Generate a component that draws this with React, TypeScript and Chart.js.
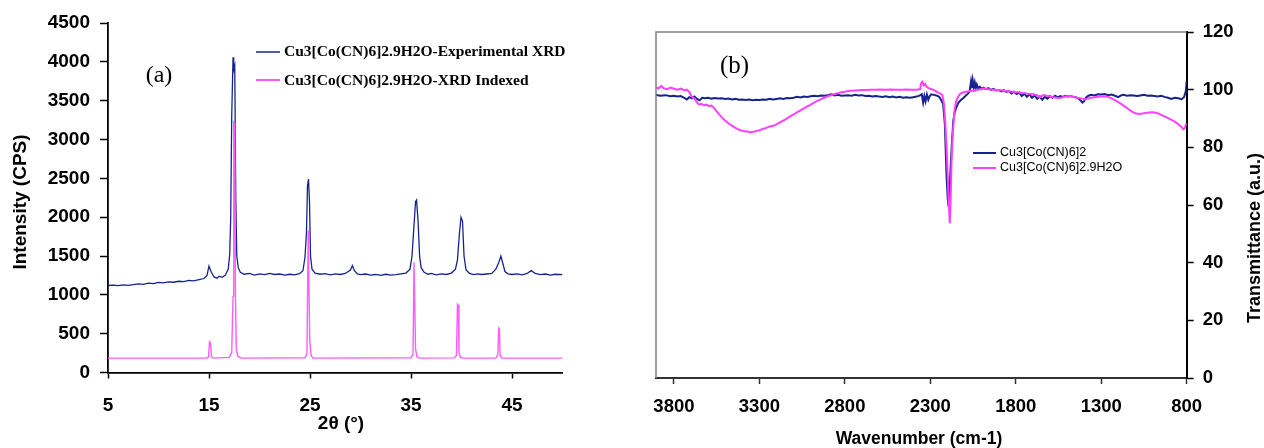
import React, { useEffect, useRef } from "react";
import { Chart, registerables } from "chart.js";
Chart.register(...registerables);

// ---------- Panel (a): XRD ----------
const XRD_X_TICKS = [5, 15, 25, 35, 45];
const XRD_X_MIN = 5;
const XRD_X_MAX = 50;
const XRD_Y_MIN = 0;
const XRD_Y_MAX = 4500;
const XRD_Y_STEP = 500;
const XRD_EXP_LABEL = "Cu3[Co(CN)6]2.9H2O-Experimental XRD";
const XRD_IDX_LABEL = "Cu3[Co(CN)6]2.9H2O-XRD Indexed";

const XRD_EXP_X = [5.0, 5.5, 6.0, 6.5, 7.0, 7.5, 8.0, 8.5, 9.0, 9.5, 10.0, 10.5, 11.0, 11.5, 12.0, 12.5, 13.0, 13.5, 14.0, 14.5, 14.8, 15.0, 15.2, 15.5, 15.8, 16.0, 16.3, 16.6, 16.9, 17.05, 17.15, 17.25, 17.38, 17.45, 17.55, 17.65, 17.75, 17.9, 18.1, 18.5, 19.0, 19.5, 20.0, 20.5, 21.0, 21.5, 22.0, 22.5, 23.0, 23.5, 24.0, 24.3, 24.5, 24.65, 24.75, 24.85, 24.95, 25.05, 25.2, 25.5, 26.0, 26.5, 27.0, 27.5, 28.0, 28.5, 29.0, 29.2, 29.4, 29.7, 30.0, 30.5, 31.0, 31.5, 32.0, 32.5, 33.0, 33.5, 34.0, 34.5, 34.9, 35.1, 35.3, 35.45, 35.55, 35.7, 35.85, 36.0, 36.3, 36.7, 37.0, 37.5, 38.0, 38.5, 39.0, 39.4, 39.6, 39.8, 39.95, 40.1, 40.25, 40.45, 40.8, 41.2, 41.6, 42.0, 42.5, 43.0, 43.4, 43.7, 43.9, 44.1, 44.3, 44.6, 45.0, 45.5, 46.0, 46.5, 46.9, 47.3, 47.8, 48.3, 48.8, 49.3, 50.0];
const XRD_EXP_Y = [1120, 1125, 1118, 1128, 1122, 1132, 1140, 1135, 1150, 1145, 1160, 1155, 1168, 1162, 1175, 1170, 1185, 1180, 1195, 1210, 1250, 1370, 1300, 1230, 1215, 1240, 1225, 1250, 1330, 1520, 2000, 3300, 4060, 3900, 3950, 2250, 1500, 1350, 1290, 1265, 1275, 1255, 1270, 1260, 1275, 1262, 1268, 1255, 1265, 1258, 1275, 1310, 1480, 1800, 2400, 2490, 2200, 1500, 1330, 1280, 1265, 1272, 1258, 1270, 1262, 1275, 1320, 1375, 1310, 1270, 1260, 1268, 1255, 1262, 1250, 1265, 1255, 1260, 1270, 1280, 1330, 1500, 1900, 2200, 2220, 1950, 1500, 1350, 1290, 1265, 1275, 1258, 1270, 1262, 1280, 1330, 1450, 1800, 2000, 1950, 1500, 1320, 1275, 1260, 1270, 1262, 1268, 1275, 1330, 1420, 1500, 1400, 1300, 1270, 1262, 1270, 1258, 1275, 1312, 1275, 1260, 1268, 1255, 1265, 1260];

const XRD_IDX_X = [5.0, 14.8, 14.95, 15.05, 15.15, 15.25, 15.4, 17.0, 17.25, 17.38, 17.45, 17.55, 17.62, 17.7, 17.85, 18.2, 24.5, 24.7, 24.82, 24.9, 24.97, 25.1, 25.3, 35.0, 35.2, 35.3, 35.38, 35.45, 35.6, 35.9, 39.3, 39.5, 39.6, 39.68, 39.75, 39.9, 40.2, 43.4, 43.6, 43.68, 43.75, 43.82, 44.0, 47.0, 50.0];
const XRD_IDX_Y = [185, 185, 200, 395, 380, 200, 185, 195, 260, 980, 3220, 3200, 1000, 300, 210, 185, 190, 240, 1830, 1830, 420, 220, 185, 190, 230, 1420, 1420, 300, 200, 185, 188, 220, 880, 870, 250, 195, 185, 185, 230, 570, 560, 220, 185, 185, 185];

// ---------- Panel (b): IR ----------
const IR_X_TICKS = [3800, 3300, 2800, 2300, 1800, 1300, 800];
const IR_X_MIN = 800;
const IR_X_MAX = 3905;
const IR_Y_MIN = 0;
const IR_Y_MAX = 120;
const IR_Y_STEP = 20;
const IR_A_LABEL = "Cu3[Co(CN)6]2";
const IR_B_LABEL = "Cu3[Co(CN)6]2.9H2O";

const IR_A_X = [3905, 3880, 3850, 3820, 3800, 3780, 3760, 3740, 3725, 3710, 3695, 3680, 3665, 3650, 3635, 3620, 3600, 3580, 3560, 3540, 3520, 3500, 3480, 3460, 3440, 3420, 3400, 3380, 3360, 3340, 3320, 3300, 3280, 3260, 3240, 3220, 3200, 3180, 3160, 3140, 3120, 3100, 3080, 3060, 3040, 3020, 3000, 2980, 2960, 2940, 2920, 2900, 2880, 2860, 2840, 2820, 2800, 2780, 2760, 2740, 2720, 2700, 2680, 2660, 2640, 2620, 2600, 2580, 2560, 2540, 2520, 2500, 2480, 2460, 2440, 2420, 2400, 2380, 2360, 2350, 2342, 2335, 2328, 2320, 2312, 2305, 2295, 2280, 2265, 2250, 2238, 2225, 2215, 2205, 2198, 2193, 2188, 2182, 2175, 2166, 2158, 2147, 2135, 2120, 2108, 2095, 2080, 2070, 2062, 2057, 2052, 2046, 2040, 2034, 2028, 2020, 2010, 2000, 1990, 1975, 1960, 1945, 1930, 1915, 1900, 1885, 1870, 1855, 1840, 1825, 1810, 1795, 1780, 1765, 1750, 1735, 1720, 1705, 1690, 1675, 1660, 1645, 1630, 1615, 1600, 1585, 1570, 1555, 1540, 1525, 1510, 1495, 1480, 1465, 1450, 1435, 1420, 1410, 1400, 1390, 1375, 1360, 1340, 1320, 1300, 1280, 1260, 1240, 1220, 1200, 1185, 1170, 1150, 1130, 1110, 1090, 1070, 1050, 1030, 1010, 990, 970, 950, 930, 910, 890, 870, 850, 830, 815, 805, 800];
const IR_A_Y = [98.2, 97.9, 98.1, 97.7, 97.9, 97.6, 97.8, 97.2, 96.6, 97.4, 97.0, 97.6, 96.8, 96.3, 97.2, 97.0, 97.2, 96.9, 97.1, 96.9, 97.0, 96.8, 96.9, 96.6, 96.8, 96.5, 96.6, 96.4, 96.6, 96.3, 96.5, 96.4, 96.6, 96.5, 96.8, 96.6, 96.8, 97.0, 96.8, 97.1, 97.0, 97.2, 97.5, 97.3, 97.6, 97.5, 97.7, 97.9, 97.7, 98.0, 97.9, 98.1, 98.4, 98.0, 98.2, 97.9, 98.0, 98.1, 97.9, 98.2, 98.0, 98.1, 97.8, 97.9, 97.6, 97.8, 97.6, 97.5, 97.7, 97.4, 97.6, 97.3, 97.5, 97.2, 97.4, 97.2, 97.4, 97.6, 98.0, 98.4, 95.5, 97.8, 96.0, 98.3, 96.5, 97.6, 98.4, 98.2, 98.0, 97.6, 96.6, 95.0, 88.0, 70.0, 62.0, 59.4, 63.0, 72.0, 80.0, 89.0, 92.0, 94.0, 95.5, 96.5, 97.0, 97.8, 98.6, 99.5, 102.8, 100.5, 103.2, 100.8, 102.5, 100.6, 101.8, 100.4, 101.0, 100.2, 100.7, 100.2, 100.5, 99.9, 100.3, 99.7, 99.9, 99.4, 99.8, 99.2, 99.5, 98.7, 99.3, 98.5, 99.0, 97.8, 98.6, 97.5, 98.4, 97.2, 98.0, 96.8, 97.6, 96.5, 97.5, 96.9, 97.8, 97.2, 97.9, 97.3, 97.8, 97.5, 97.9, 97.6, 97.8, 97.5, 97.4, 97.0, 96.2, 95.5, 96.0, 97.2, 97.9, 98.2, 98.0, 98.4, 98.3, 98.5, 98.1, 98.3, 97.9, 97.4, 98.0, 98.2, 97.9, 98.1, 98.0, 97.8, 98.0, 98.2, 97.9, 98.0, 97.8, 97.6, 97.9, 97.5, 97.2, 96.8, 97.2, 97.0, 96.7, 97.5, 99.5, 103.0];

const IR_B_X = [3905, 3890, 3875, 3860, 3840, 3820, 3800, 3780, 3760, 3740, 3725, 3710, 3700, 3690, 3680, 3670, 3660, 3650, 3640, 3625, 3610, 3595, 3580, 3565, 3550, 3535, 3520, 3505, 3490, 3475, 3460, 3445, 3430, 3415, 3400, 3385, 3370, 3355, 3340, 3325, 3310, 3295, 3280, 3265, 3250, 3235, 3220, 3205, 3190, 3175, 3160, 3145, 3130, 3115, 3100, 3085, 3070, 3055, 3040, 3025, 3010, 2995, 2980, 2965, 2950, 2935, 2920, 2905, 2890, 2875, 2860, 2840, 2820, 2800, 2780, 2760, 2740, 2720, 2700, 2680, 2650, 2620, 2590, 2560, 2530, 2500, 2470, 2440, 2410, 2380, 2360, 2352, 2346, 2338, 2330, 2322, 2312, 2300, 2285, 2270, 2255, 2240, 2230, 2220, 2212, 2205, 2198, 2192, 2186, 2181, 2176, 2170, 2165, 2158, 2150, 2140, 2127, 2110, 2090, 2070, 2050, 2030, 2010, 1990, 1970, 1950, 1930, 1910, 1890, 1870, 1850, 1830, 1810, 1790, 1770, 1750, 1730, 1710, 1690, 1670, 1660, 1650, 1635, 1620, 1600, 1580, 1560, 1545, 1530, 1510, 1490, 1470, 1450, 1430, 1410, 1395, 1380, 1360, 1340, 1320, 1300, 1280, 1260, 1240, 1220, 1200, 1180, 1160, 1140, 1120, 1100, 1080, 1060, 1040, 1020, 1000, 980, 960, 940, 920, 900, 880, 860, 845, 830, 820, 812, 806, 800];
const IR_B_Y = [100.8, 100.4, 101.3, 100.5, 100.2, 100.7, 100.3, 100.0, 100.4, 99.8, 100.0, 99.2, 98.0, 97.2, 97.0, 96.0, 95.2, 94.8, 95.1, 94.6, 94.8, 94.3, 94.5, 93.6, 92.5, 91.4, 90.4, 89.5, 88.8, 88.0, 87.5, 86.9, 86.4, 86.0, 85.8, 85.5, 85.6, 85.2, 85.4, 85.5, 85.8, 86.0, 86.4, 86.6, 87.0, 87.3, 87.5, 87.8, 88.3, 88.8, 89.3, 89.8, 90.4, 90.9, 91.4, 92.0, 92.5, 93.0, 93.5, 94.0, 94.5, 95.0, 95.5, 96.0, 96.4, 96.8, 97.2, 97.6, 97.9, 98.2, 98.5, 98.8, 99.1, 99.3, 99.5, 99.6, 99.7, 99.8, 99.9, 99.9, 100.0, 100.0, 100.1, 100.0, 100.1, 100.0, 100.0, 100.1, 100.0, 100.0, 100.2, 102.5, 102.8, 101.5, 102.0, 101.0, 100.6, 100.3, 100.0, 99.6, 99.0, 98.6, 98.2, 95.0, 88.0, 80.0, 70.0, 60.0, 53.7, 62.0, 75.0, 83.0, 87.5, 93.0, 95.8, 97.2, 98.5, 99.0, 99.3, 99.5, 99.6, 99.9, 100.1, 100.4, 100.2, 100.1, 100.0, 99.9, 99.8, 99.6, 99.5, 99.4, 99.2, 99.1, 98.9, 98.8, 98.6, 98.5, 98.3, 97.9, 97.4, 97.8, 98.1, 97.9, 97.7, 97.4, 97.2, 97.1, 97.3, 97.6, 97.8, 97.6, 97.3, 97.1, 96.8, 96.6, 96.9, 97.2, 97.4, 97.5, 97.6, 97.7, 97.5, 97.0, 96.4, 95.7, 94.9, 94.1, 93.2, 92.4, 91.8, 91.6, 91.7, 91.9, 92.1, 92.2, 92.0, 91.6, 91.0, 90.5, 89.9, 89.3, 88.5, 87.8, 87.0, 86.3, 86.6, 87.6, 88.4];

const BLUE = "#17238c";
const PINK_XRD = "#ff5cff";
const PINK_IR = "#ff40ff";
const SANS = "'Liberation Sans', Arial, sans-serif";
const SERIF = "'Liberation Serif', 'Times New Roman', serif";

const pts = (xs: number[], ys: number[]) => xs.map((x, i) => ({ x, y: ys[i] }));
const plain = (v: any) => String(v);

function XrdChart() {
  const ref = useRef<HTMLCanvasElement>(null);
  useEffect(() => {
    const overlay = {
      id: "overlayA",
      afterDraw(chart: any) {
        const ctx = chart.ctx;
        ctx.save();
        ctx.fillStyle = "#000";
        ctx.textBaseline = "middle";
        ctx.font = `24px ${SERIF}`;
        ctx.textAlign = "center";
        ctx.fillText("(a)", 159, 76);
        ctx.lineWidth = 1.5;
        ctx.strokeStyle = BLUE;
        ctx.beginPath(); ctx.moveTo(256, 52); ctx.lineTo(280, 52); ctx.stroke();
        ctx.strokeStyle = PINK_XRD;
        ctx.lineWidth = 2;
        ctx.beginPath(); ctx.moveTo(256, 80); ctx.lineTo(280, 80); ctx.stroke();
        ctx.font = `bold 15.5px ${SERIF}`;
        ctx.textAlign = "left";
        ctx.fillText(XRD_EXP_LABEL, 284, 52);
        ctx.fillText(XRD_IDX_LABEL, 284, 81);
        ctx.font = `bold 19px ${SANS}`;
        ctx.textAlign = "center";
        ctx.fillText("2θ (°)", 341, 424);
        ctx.translate(21, 202);
        ctx.rotate(-Math.PI / 2);
        ctx.fillText("Intensity (CPS)", 0, 0);
        ctx.restore();
      },
    };
    const chart = new Chart(ref.current!, {
      type: "line",
      data: {
        datasets: [
          { label: XRD_IDX_LABEL, data: pts(XRD_IDX_X, XRD_IDX_Y), borderColor: PINK_XRD, borderWidth: 1.4, pointRadius: 0, order: 0 },
          { label: XRD_EXP_LABEL, data: pts(XRD_EXP_X, XRD_EXP_Y), borderColor: BLUE, borderWidth: 1.3, pointRadius: 0, order: 1 },
        ],
      },
      options: {
        animation: false,
        responsive: false,
        layout: { padding: { left: 0, top: 23, right: 69.5, bottom: 0 } },
        plugins: { legend: { display: false }, tooltip: { enabled: false } },
        scales: {
          x: {
            type: "linear",
            min: XRD_X_MIN,
            max: XRD_X_MAX,
            afterBuildTicks: (s: any) => { s.ticks = XRD_X_TICKS.map((v) => ({ value: v })); },
            afterFit: (s: any) => { s.height = 75.5; },
            grid: { display: true, drawOnChartArea: false, drawTicks: true, tickLength: 6, tickColor: "#000", tickWidth: 1.5 },
            border: { display: true, color: "#000", width: 1.8 },
            ticks: { callback: plain, color: "#000", padding: 16, maxRotation: 0, font: { family: SANS, size: 19, weight: "bold" } },
          },
          y: {
            type: "linear",
            min: XRD_Y_MIN,
            max: XRD_Y_MAX,
            ticks: { callback: plain, stepSize: XRD_Y_STEP, color: "#000", padding: 10, font: { family: SANS, size: 19, weight: "bold" } },
            afterFit: (s: any) => { s.width = 108; },
            grid: { display: true, drawOnChartArea: false, drawTicks: true, tickLength: 8, tickColor: "#000", tickWidth: 1.5 },
            border: { display: true, color: "#000", width: 1.8 },
          },
        },
      },
      plugins: [overlay],
    } as any);
    return () => chart.destroy();
  }, []);
  return <canvas ref={ref} width={632} height={448} style={{ position: "absolute", left: 0, top: 0 }} />;
}

function IrChart() {
  const ref = useRef<HTMLCanvasElement>(null);
  useEffect(() => {
    const overlay = {
      id: "overlayB",
      afterDraw(chart: any) {
        const ctx = chart.ctx;
        const a = chart.chartArea;
        ctx.save();
        ctx.strokeStyle = "#808080";
        ctx.lineWidth = 1.5;
        ctx.beginPath();
        ctx.moveTo(a.left, a.bottom);
        ctx.lineTo(a.left, a.top);
        ctx.lineTo(a.right, a.top);
        ctx.stroke();
        ctx.fillStyle = "#000";
        ctx.textBaseline = "middle";
        ctx.font = `25px ${SERIF}`;
        ctx.textAlign = "center";
        ctx.fillText("(b)", 102.5, 66);
        ctx.lineWidth = 2;
        ctx.strokeStyle = BLUE;
        ctx.beginPath(); ctx.moveTo(341, 153); ctx.lineTo(364, 153); ctx.stroke();
        ctx.strokeStyle = PINK_IR;
        ctx.beginPath(); ctx.moveTo(341, 168); ctx.lineTo(364, 168); ctx.stroke();
        ctx.font = `12.5px ${SANS}`;
        ctx.textAlign = "left";
        ctx.fillText(IR_A_LABEL, 368, 153);
        ctx.fillText(IR_B_LABEL, 368, 168);
        ctx.font = `bold 17.5px ${SANS}`;
        ctx.textAlign = "center";
        ctx.fillText("Wavenumber (cm-1)", 287, 439);
        ctx.font = `bold 18px ${SANS}`;
        ctx.translate(623, 238);
        ctx.rotate(-Math.PI / 2);
        ctx.fillText("Transmittance (a.u.)", 0, 0);
        ctx.restore();
      },
    };
    const chart = new Chart(ref.current!, {
      type: "line",
      data: {
        datasets: [
          { label: IR_B_LABEL, data: pts(IR_B_X, IR_B_Y), borderColor: PINK_IR, borderWidth: 2, pointRadius: 0, order: 0 },
          { label: IR_A_LABEL, data: pts(IR_A_X, IR_A_Y), borderColor: BLUE, borderWidth: 2, pointRadius: 0, order: 1 },
        ],
      },
      options: {
        animation: false,
        responsive: false,
        layout: { padding: { left: 24, top: 32, right: 0, bottom: 0 } },
        plugins: { legend: { display: false }, tooltip: { enabled: false } },
        scales: {
          x: {
            type: "linear",
            reverse: true,
            min: IR_X_MIN,
            max: IR_X_MAX,
            afterBuildTicks: (s: any) => { s.ticks = IR_X_TICKS.map((v) => ({ value: v })); },
            afterFit: (s: any) => { s.height = 70; },
            grid: { display: true, drawOnChartArea: false, drawTicks: true, tickLength: 6, tickColor: "#333", tickWidth: 1.5 },
            border: { display: true, color: "#333", width: 2 },
            ticks: { callback: plain, color: "#000", padding: 12, maxRotation: 0, font: { family: SANS, size: 18.5, weight: "bold" } },
          },
          y: {
            type: "linear",
            position: "right",
            min: IR_Y_MIN,
            max: IR_Y_MAX,
            ticks: { callback: plain, stepSize: IR_Y_STEP, color: "#000", padding: 9, font: { family: SANS, size: 18.5, weight: "bold" } },
            afterFit: (s: any) => { s.width = 77.3; },
            grid: { display: true, drawOnChartArea: false, drawTicks: true, tickLength: 7, tickColor: "#000", tickWidth: 1.5 },
            border: { display: true, color: "#000", width: 2 },
          },
        },
      },
      plugins: [overlay],
    } as any);
    return () => chart.destroy();
  }, []);
  return <canvas ref={ref} width={632} height={448} style={{ position: "absolute", left: 632, top: 0 }} />;
}

export default function App() {
  useEffect(() => {
    document.body.style.margin = "0";
  }, []);
  return (
    <div style={{ position: "relative", width: 1264, height: 448, background: "#fff", overflow: "hidden" }}>
      <XrdChart />
      <IrChart />
    </div>
  );
}
